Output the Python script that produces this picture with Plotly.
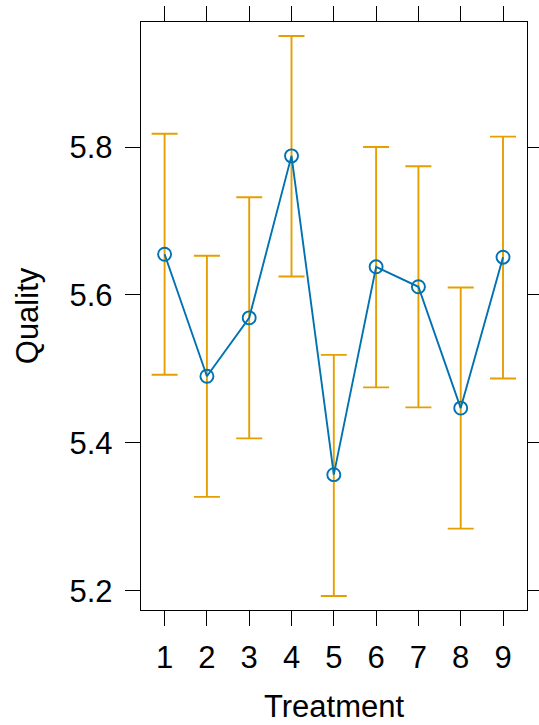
import plotly.graph_objects as go

treatment = [1, 2, 3, 4, 5, 6, 7, 8, 9]
quality_mean = [5.655, 5.490, 5.569, 5.788, 5.357, 5.638, 5.611, 5.447, 5.651]
quality_upper = [5.818, 5.653, 5.732, 5.950, 5.519, 5.800, 5.774, 5.610, 5.814]
quality_lower = [5.492, 5.327, 5.406, 5.625, 5.193, 5.475, 5.448, 5.284, 5.487]
y_ticks = [5.2, 5.4, 5.6, 5.8]

err_plus = [u - m for u, m in zip(quality_upper, quality_mean)]
err_minus = [m - l for m, l in zip(quality_mean, quality_lower)]

fig = go.Figure()
# error bars (orange)
fig.add_trace(go.Scatter(
    x=treatment, y=quality_mean, mode="markers",
    marker=dict(size=1, color="rgba(0,0,0,0)"),
    error_y=dict(type="data", symmetric=False, array=err_plus, arrayminus=err_minus,
                 color="#E69F00", thickness=1.9, width=13),
    showlegend=False, hoverinfo="skip"))
# line + open circles (blue)
fig.add_trace(go.Scatter(
    x=treatment, y=quality_mean, mode="lines+markers",
    line=dict(color="#0072B2", width=1.9),
    marker=dict(symbol="circle-open", size=13, color="#0072B2", line=dict(width=1.9)),
    showlegend=False))

font = dict(family="Liberation Sans, Arial, sans-serif", size=31, color="black")
fig.update_layout(
    width=539, height=725,
    margin=dict(l=141, r=12, t=22, b=115, autoexpand=False),
    paper_bgcolor="white", plot_bgcolor="white",
    font=font,
    xaxis=dict(range=[0.442, 9.567], tickvals=treatment, ticktext=[str(t) for t in treatment],
               showline=True, linecolor="black", linewidth=1.4, mirror="ticks",
               ticks="outside", ticklen=15, tickwidth=1.4, tickcolor="black",
               showgrid=False, zeroline=False, ticklabelstandoff=5, automargin=False,
               title=dict(text="Treatment", font=font, standoff=20)),
    yaxis=dict(range=[5.174, 5.969], tickvals=y_ticks, ticktext=[f"{v:.1f}" for v in y_ticks],
               showline=True, linecolor="black", linewidth=1.4, mirror="ticks",
               ticks="outside", ticklen=15, tickwidth=1.4, tickcolor="black",
               showgrid=False, zeroline=False, ticklabelstandoff=6, automargin=False,
               title=dict(text="Quality", font=font, standoff=21)),
)
fig.write_html("out.html")
